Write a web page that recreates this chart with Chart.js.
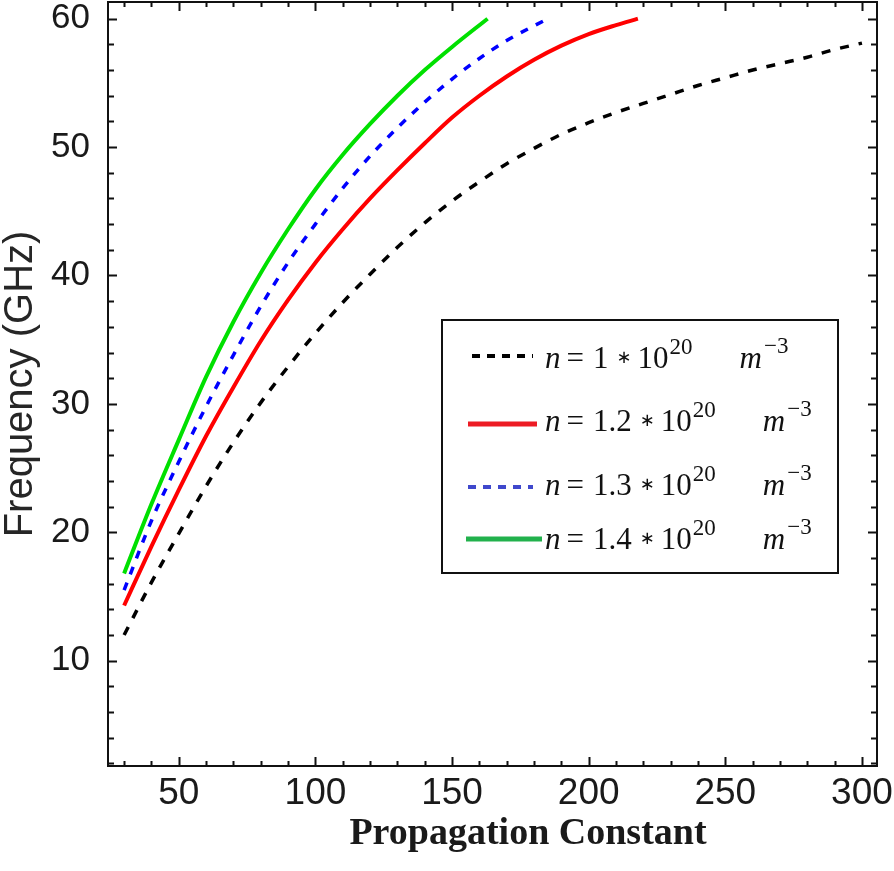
<!DOCTYPE html>
<html>
<head>
<meta charset="utf-8">
<script src="https://cdn.jsdelivr.net/npm/chart.js"></script>
<style>
  html, body { margin: 0; padding: 0; background: #fff; }
  canvas { display: block; }
</style>
</head>
<body>
<canvas id="myChart" width="894" height="871"></canvas>
<script>
// propagation constant (x) and frequency in GHz (y), one pair per density
var n10X = [30,40,50,60,70,80,90,100,110,120,130,140,150,160,170,180,190,200,210,220,230,240,250,260,270,280,290,300];
var n10Y = [12.0,16.1,19.9,23.6,27.0,30.1,32.9,35.5,37.9,40.1,42.2,44.1,45.8,47.3,48.7,49.9,51.0,51.9,52.7,53.4,54.1,54.8,55.4,56.0,56.5,57.0,57.6,58.1];
var n12X = [30,40,50,60,70,80,90,100,110,120,130,140,150,160,170,180,190,200,210,218];
var n12Y = [14.3,18.9,23.3,27.5,31.3,34.9,38.1,41.0,43.6,46.0,48.2,50.3,52.3,54.0,55.5,56.8,57.9,58.8,59.5,60.0];
var n13X = [30,40,50,60,70,80,90,100,110,120,130,140,150,160,170,185];
var n13Y = [15.5,20.9,25.5,29.8,33.8,37.6,41.0,44.0,46.8,49.3,51.5,53.5,55.3,56.9,58.3,60.0];
var n14X = [30,40,50,60,70,80,90,100,110,120,130,140,150,163];
var n14Y = [16.8,22.2,27.2,32.1,36.4,40.2,43.6,46.7,49.4,51.8,54.0,56.0,57.8,60.0];

// legend mantissas: n = m * 10^20 m^-3
var densities = ["1", "1.2", "1.3", "1.4"];

// axis ticks
var xTicks = [50,100,150,200,250,300];
var yTicks = [10,20,30,40,50,60];
var xMinorStep = 10;
var yMinorStep = 2;

function pts(xs, ys) {
  return xs.map(function (x, i) { return { x: x, y: ys[i] }; });
}

// legend sample styles (legend image differs a bit from the curves)
var legendColors = ["#000000", "#ed1c24", "#3f48cc", "#22b14c"];

var frameTicks = {
  id: 'frameTicks',
  afterDatasetsDraw: function (chart) {
    var ctx = chart.ctx, a = chart.chartArea, x = chart.scales.x, y = chart.scales.y;
    ctx.save();
    ctx.strokeStyle = '#111';
    ctx.lineWidth = 2;
    ctx.beginPath();
    for (var v = 30; v <= 300; v += xMinorStep) {
      var len = (v % 50 === 0) ? 9 : 5;
      var p = Math.round(x.getPixelForValue(v)) + 0.5;
      ctx.moveTo(p, a.bottom); ctx.lineTo(p, a.bottom - len);
      ctx.moveTo(p, a.top); ctx.lineTo(p, a.top + len);
    }
    for (var w = 2; w <= 60; w += yMinorStep) {
      var l2 = (w % 10 === 0) ? 9 : 6;
      var q = Math.round(y.getPixelForValue(w)) + 0.5;
      ctx.moveTo(a.left, q); ctx.lineTo(a.left + l2, q);
      ctx.moveTo(a.right, q); ctx.lineTo(a.right - l2, q);
    }
    ctx.stroke();
    ctx.strokeRect(a.left, a.top, a.right - a.left, a.bottom - a.top);

    // x axis title
    ctx.fillStyle = '#1a1a1a';
    ctx.font = 'bold 38px "Liberation Serif"';
    ctx.textAlign = 'center';
    ctx.textBaseline = 'alphabetic';
    ctx.fillText('Propagation Constant', 528, 844);
    ctx.restore();
  }
};

var mathLegend = {
  id: 'mathLegend',
  afterDraw: function (chart) {
    var ctx = chart.ctx;
    ctx.save();
    ctx.fillStyle = '#fff';
    ctx.fillRect(442, 320, 396, 253);
    ctx.strokeStyle = '#111';
    ctx.lineWidth = 2;
    ctx.strokeRect(442, 320, 396, 253);

    var lineY = [356, 424, 487, 539];
    var base = [368, 431, 495, 549];
    var lx0 = [472, 468, 468, 466];
    var lx1 = [533, 537, 533, 542];
    for (var i = 0; i < densities.length; i++) {
      var ds = chart.data.datasets[i];
      ctx.beginPath();
      ctx.strokeStyle = legendColors[i];
      ctx.lineWidth = ds.borderDash ? 4 : 5;
      ctx.setLineDash(ds.borderDash ? [8, 7] : []);
      ctx.moveTo(lx0[i], lineY[i]);
      ctx.lineTo(lx1[i], lineY[i]);
      ctx.stroke();
      ctx.setLineDash([]);

      var b = base[i];
      var tx = 545;
      ctx.fillStyle = '#111';
      ctx.textAlign = 'left';
      ctx.font = 'italic 31px "Liberation Serif"';
      ctx.fillText('n', tx, b);
      tx += ctx.measureText('n').width + 6;
      ctx.font = '31px "Liberation Serif"';
      ctx.fillText('=', tx, b);
      tx += ctx.measureText('=').width + 9;
      ctx.fillText(densities[i], tx, b);
      tx += ctx.measureText(densities[i]).width + 8;
      ctx.font = '18px "DejaVu Sans"';
      ctx.fillText('\u2217', tx, b - 5);
      tx += ctx.measureText('\u2217').width + 6;
      ctx.font = '31px "Liberation Serif"';
      ctx.fillText('10', tx, b);
      tx += ctx.measureText('10').width + 1;
      ctx.font = '23px "Liberation Serif"';
      ctx.fillText('20', tx, b - 14);
      tx += ctx.measureText('20').width + 47;
      ctx.font = 'italic 31px "Liberation Serif"';
      ctx.fillText('m', tx, b);
      tx += ctx.measureText('m').width + 2;
      ctx.font = '23px "Liberation Serif"';
      ctx.fillText('\u22123', tx, b - 15);
    }
    ctx.restore();
  }
};

var ctx = document.getElementById("myChart");
var myChart = new Chart(ctx, {
  type: 'line',
  data: {
    datasets: [
      {
        data: pts(n10X, n10Y),
        label: "n = 1 * 10^20 m^-3",
        borderColor: "#000000",
        borderWidth: 3.5,
        borderDash: [9, 10],
        fill: false
      },
      {
        data: pts(n12X, n12Y),
        label: "n = 1.2 * 10^20 m^-3",
        borderColor: "#ff0000",
        borderWidth: 4,
        fill: false
      },
      {
        data: pts(n13X, n13Y),
        label: "n = 1.3 * 10^20 m^-3",
        borderColor: "#0000ff",
        borderWidth: 3.5,
        borderDash: [8, 9],
        fill: false
      },
      {
        data: pts(n14X, n14Y),
        label: "n = 1.4 * 10^20 m^-3",
        borderColor: "#00e000",
        borderWidth: 4,
        fill: false
      }
    ]
  },
  options: {
    responsive: false,
    animation: false,
    layout: { padding: { top: 2, right: 17, left: 0, bottom: 0 } },
    elements: {
      point: { radius: 0 },
      line: { cubicInterpolationMode: 'monotone', borderCapStyle: 'butt' }
    },
    plugins: {
      legend: { display: false },
      tooltip: { enabled: false }
    },
    scales: {
      x: {
        type: 'linear',
        min: 24.1,
        max: 305.5,
        grid: { display: false },
        border: { display: false },
        afterBuildTicks: function (s) { s.ticks = xTicks.map(function (v) { return { value: v }; }); },
        afterFit: function (s) { s.height = 105; s.paddingLeft = 0; s.paddingRight = 0; },
        ticks: {
          color: '#1a1a1a',
          padding: -2,
          maxRotation: 0,
          font: { family: '"Liberation Sans"', size: 37 }
        }
      },
      y: {
        min: 1.8,
        max: 61.3,
        grid: { display: false },
        border: { display: false },
        afterBuildTicks: function (s) { s.ticks = yTicks.map(function (v) { return { value: v }; }); },
        afterFit: function (s) { s.width = 108; s.paddingTop = 0; s.paddingBottom = 0; },
        ticks: {
          color: '#1a1a1a',
          padding: 10,
          font: { family: '"Liberation Sans"', size: 35 }
        },
        title: {
          display: true,
          text: 'Frequency (GHz)',
          color: '#262626',
          padding: 0,
          font: { family: '"Liberation Sans"', size: 40, lineHeight: 1.05 }
        }
      }
    }
  },
  plugins: [frameTicks, mathLegend]
});
</script>
</body>
</html>
